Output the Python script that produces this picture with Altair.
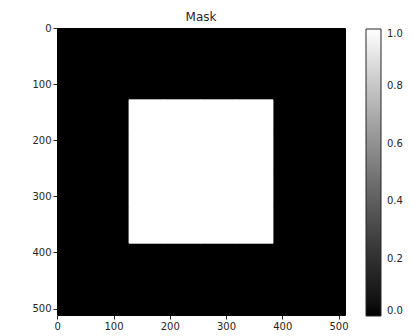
import altair as alt
import pandas as pd

# 512x512 mask stored as 8x8 blocks of 64 pixels each
image_size = 512
block_size = 64
mask_blocks = [
    [0, 0, 0, 0, 0, 0, 0, 0],
    [0, 0, 0, 0, 0, 0, 0, 0],
    [0, 0, 1, 1, 1, 1, 0, 0],
    [0, 0, 1, 1, 1, 1, 0, 0],
    [0, 0, 1, 1, 1, 1, 0, 0],
    [0, 0, 1, 1, 1, 1, 0, 0],
    [0, 0, 0, 0, 0, 0, 0, 0],
    [0, 0, 0, 0, 0, 0, 0, 0],
]
axis_ticks = [0, 100, 200, 300, 400, 500]
colorbar_ticks = [0.0, 0.2, 0.4, 0.6, 0.8, 1.0]
title = "Mask"

rows = []
for r, row in enumerate(mask_blocks):
    for c, v in enumerate(row):
        rows.append({
            "x0": c * block_size - 0.5,
            "x1": (c + 1) * block_size - 0.5,
            "y0": r * block_size - 0.5,
            "y1": (r + 1) * block_size - 0.5,
            "value": v,
        })
# draw dark cells first, bright cells on top
df = pd.DataFrame(rows).sort_values("value", kind="stable").reset_index(drop=True)

FONT = "DejaVu Sans"
TXT = "#262626"
gray = alt.Scale(domain=[0, 1], range=["#000000", "#ffffff"])

chart = alt.Chart(df).mark_rect(clip=True).encode(
    x=alt.X("x0:Q", scale=alt.Scale(domain=[-0.5, image_size - 0.5], nice=False, zero=False),
            axis=alt.Axis(values=axis_ticks, title=None, grid=False, domain=False,
                          tickSize=4, tickColor=TXT, labelColor=TXT, labelFontSize=10,
                          labelFont=FONT, labelPadding=2, labelFlush=False)),
    x2="x1:Q",
    y=alt.Y("y0:Q", scale=alt.Scale(domain=[-0.5, image_size - 0.5], reverse=True, nice=False, zero=False),
            axis=alt.Axis(values=axis_ticks, title=None, grid=False, domain=False,
                          tickSize=4, tickColor=TXT, labelColor=TXT, labelFontSize=10,
                          labelFont=FONT, labelPadding=2, labelFlush=False)),
    y2="y1:Q",
    stroke=alt.condition("datum.value > 0.5", alt.value("#ffffff"), alt.value("#000000")),
    strokeWidth=alt.condition("datum.value > 0.5", alt.value(0.8), alt.value(1.6)),
    color=alt.Color("value:Q",
                    scale=gray,
                    legend=alt.Legend(title=None, orient="none", legendX=309, legendY=1,
                                      direction="vertical", gradientLength=287,
                                      gradientThickness=15, gradientStrokeColor=TXT,
                                      gradientStrokeWidth=1, values=colorbar_ticks,
                                      format=".1f", labelFont=FONT, labelFontSize=10,
                                      labelColor=TXT, labelOffset=6)),
).properties(
    width=288,
    height=287,
    title=alt.TitleParams(title, font=FONT, fontSize=12, fontWeight="normal",
                          color=TXT, offset=-1),
    autosize=alt.AutoSizeParams(type="none"),
    padding={"left": 49, "top": 20, "right": 58, "bottom": 25},
).configure_view(stroke="#000000", strokeWidth=1)

chart.save("out.html", embed_options={"renderer": "svg", "actions": False})
